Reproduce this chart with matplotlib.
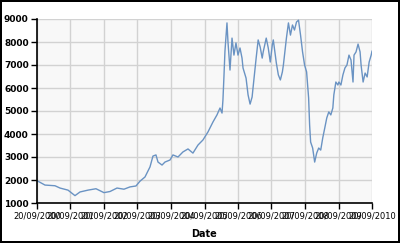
import matplotlib
matplotlib.use("Agg")
import matplotlib.pyplot as plt
import matplotlib.dates as mdates
import pandas as pd

dates = [
    "2000-09-20", "2000-12-16", "2001-04-04", "2001-05-29", "2001-08-24", "2001-11-08",
    "2002-01-02", "2002-03-30", "2002-06-25", "2002-09-20", "2002-11-25", "2003-02-09",
    "2003-04-26", "2003-07-01", "2003-09-04", "2003-10-18", "2003-12-11", "2004-02-04",
    "2004-03-07", "2004-04-09", "2004-05-01", "2004-06-14", "2004-07-16", "2004-09-09",
    "2004-10-11", "2004-12-05", "2005-01-28", "2005-03-24", "2005-05-17", "2005-07-11",
    "2005-09-03", "2005-10-28", "2005-12-21", "2006-02-03", "2006-03-08", "2006-03-30",
    "2006-04-09", "2006-04-20", "2006-05-01", "2006-05-23", "2006-06-03", "2006-06-25",
    "2006-07-17", "2006-08-07", "2006-08-29", "2006-09-20", "2006-10-12", "2006-11-03",
    "2006-11-14", "2006-12-17", "2007-01-08", "2007-01-30", "2007-02-21", "2007-03-04",
    "2007-04-06", "2007-04-28", "2007-05-20", "2007-06-11", "2007-06-22", "2007-07-25",
    "2007-08-16", "2007-09-07", "2007-09-29", "2007-10-10", "2007-11-12", "2007-12-04",
    "2007-12-26", "2008-01-17", "2008-01-28", "2008-03-01", "2008-03-23", "2008-04-14",
    "2008-05-06", "2008-05-28", "2008-06-19", "2008-07-11", "2008-08-02", "2008-08-24",
    "2008-09-15", "2008-10-07", "2008-10-29", "2008-11-09", "2008-11-20", "2008-12-12",
    "2009-01-03", "2009-01-25", "2009-02-16", "2009-03-10", "2009-04-01", "2009-04-23",
    "2009-05-15", "2009-06-06", "2009-06-28", "2009-07-20", "2009-07-31", "2009-08-22",
    "2009-09-13", "2009-09-24", "2009-10-16", "2009-11-07", "2009-11-29", "2009-12-21",
    "2010-01-12", "2010-02-03", "2010-02-25", "2010-03-08", "2010-03-30", "2010-04-21",
    "2010-05-13", "2010-05-24", "2010-06-15", "2010-07-07", "2010-07-29", "2010-08-20",
    "2010-09-11", "2010-09-20",
]
values = [
    1970, 1780, 1750, 1650, 1560, 1320,
    1480, 1560, 1620, 1450, 1500, 1650,
    1600, 1700, 1740, 1950, 2130, 2570,
    3040, 3090, 2780, 2650, 2780, 2870,
    3090, 3000, 3220, 3350, 3170, 3520,
    3740, 4090, 4520, 4830, 5130, 4910,
    5480, 6500, 7600, 8830, 8000, 6780,
    8170, 7430, 7960, 7430, 7740, 7300,
    6870, 6430, 5700, 5300, 5610, 6040,
    7300, 8090, 7780, 7300, 7570, 8170,
    7740, 7130, 7870, 8090, 7090, 6570,
    6350, 6700, 7000, 8170, 8830, 8300,
    8740, 8520, 8870, 8950, 8300, 7570,
    7000, 6700, 5570, 4390, 3650, 3390,
    2780, 3170, 3390, 3300, 3830, 4260,
    4700, 4960, 4830, 5130, 5700, 6260,
    6130, 6260, 6130, 6570, 6870, 7000,
    7430, 7220, 6260, 7430, 7570, 7910,
    7570, 7000, 6260, 6650, 6480, 7130,
    7430, 7600,
]
tick_dates = ["%d-09-20" % y for y in range(2000, 2011)]
y_ticks = [1000, 2000, 3000, 4000, 5000, 6000, 7000, 8000, 9000]
x_label = "Date"

x = pd.to_datetime(dates)
xt = pd.to_datetime(tick_dates)

fig = plt.figure(figsize=(4.0, 2.43), dpi=100)
fig.patch.set_facecolor("white")
fig.patch.set_edgecolor("black")
fig.patch.set_linewidth(1.5)
ax = fig.add_axes([37 / 400, 40 / 243, 335 / 400, 184 / 243])
ax.set_facecolor("#f8f8f8")
ax.plot(x, values, color="#6a93c3", linewidth=1.0)

ax.set_xlim(xt[0], xt[-1])
ax.set_ylim(1000, 9000)
ax.set_xticks(xt)
ax.xaxis.set_major_formatter(mdates.DateFormatter("%d/%m/%Y"))
ax.set_yticks(y_ticks)
ax.grid(True, color="#d2d2d2", linewidth=1.0)
ax.set_axisbelow(True)
for s in ["top", "right"]:
    ax.spines[s].set_visible(False)
for s in ["left", "bottom"]:
    ax.spines[s].set_color("black")
    ax.spines[s].set_linewidth(1.2)
ax.tick_params(axis="both", direction="out", length=4, width=1, color="black", pad=2)
for lab in ax.get_yticklabels():
    lab.set_fontsize(6.5)
    lab.set_fontweight("bold")
for lab in ax.get_xticklabels():
    lab.set_fontsize(6)
ax.set_xlabel(x_label, fontsize=7, fontweight="bold", labelpad=6)

fig.savefig("out.png", dpi=100)
